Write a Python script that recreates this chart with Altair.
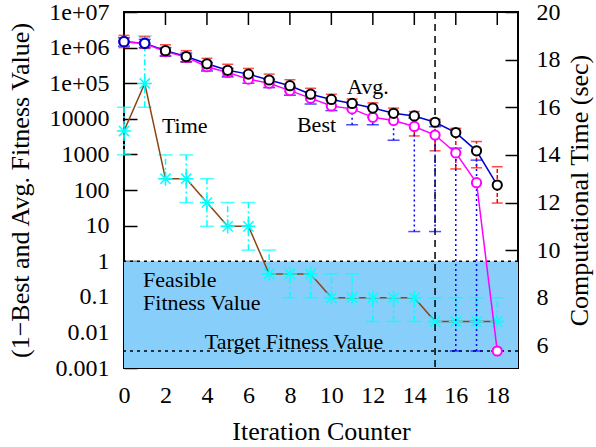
import altair as alt
import pandas as pd

# ---------------- data ----------------
iterations = list(range(19))

avg_fitness = [1.47e6, 1.32e6, 8.2e5, 5.6e5, 3.5e5, 2.3e5, 1.8e5, 1.23e5, 8.5e4, 4.9e4,
               3.5e4, 2.7e4, 2.0e4, 1.43e4, 1.2e4, 8.0e3, 4.1e3, 1.26e3, 138]
avg_low = [1.0e6, 9.5e5, 5.8e5, 3.9e5, 2.4e5, 1.6e5, 1.2e5, 8.5e4, 5.8e4, 3.4e4,
           2.4e4, 1.8e4, 1.1e4, 9.3e3, 3.3e3, 1.26e3, 390, 420, 43]
avg_high = [2.2e6, 2.0e6, 1.2e6, 8.2e5, 5.0e5, 3.4e5, 2.6e5, 1.8e5, 1.25e5, 7.2e4,
            4.9e4, 3.6e4, 2.8e4, 2.0e4, 1.6e4, 9.7e3, 5.4e3, 2.3e3, 450]

best_fitness = [1.47e6, 1.3e6, 7.7e5, 5.4e5, 2.9e5, 2.0e5, 1.3e5, 1.0e5, 6.2e4, 3.8e4,
                2.3e4, 1.9e4, 1.1e4, 8.9e3, 6.1e3, 3.5e3, 1.1e3, 160, 0.003]
best_low = [1.1e6, 1.0e6, 5.8e5, 4.0e5, 2.2e5, 1.5e5, 1.0e5, 7.5e4, 4.6e4, 2.6e4,
            1.7e4, 6.8e3, 6.8e3, 2.5e3, 6.8, 6.8, 0.003, 0.003, 0.003]
best_high = [1.9e6, 1.7e6, 1.0e6, 7.0e5, 3.8e5, 2.6e5, 1.7e5, 1.3e5, 8.0e4, 5.7e4,
             3.4e4, 2.8e4, 2.0e4, 1.4e4, 1.05e4, 6.0e3, 1.5e3, 690, 0.003]

time_sec = [15, 17, 13, 13, 12, 11, 11, 9, 9, 9, 8, 8, 8, 8, 8, 7, 7, 7, 7]
time_low = [14, 16, 13, 12, 11, 11, 10, 9, 8, 8, 8, 8, 7, 7, 7, 7, 7, 7, 7]
time_high = [16, 19, 14, 14, 13, 12, 12, 10, 9, 9, 9, 9, 8, 8, 8, 8, 8, 8, 8]

x_tick_values = [0, 2, 4, 6, 8, 10, 12, 14, 16, 18]
left_tick_values = [0.001, 0.01, 0.1, 1, 10, 100, 1000, 10000, 1e5, 1e6, 1e7]
left_tick_labels = ["0.001", "0.01", "0.1", "1", "10", "100", "1000", "10000",
                    "1e+05", "1e+06", "1e+07"]
right_tick_values = [6, 8, 10, 12, 14, 16, 18, 20]

feasible_level = 1
target_level = 0.003
floor_level = 0.001
marker_iteration = 15

ann_text = ["Time", "Avg.", "Best", "Feasible", "Fitness Value", "Target Fitness Value"]
ann_x = [1.83, 10.75, 8.34, 0.92, 0.92, 3.9]
ann_y = [6300, 7.8e4, 6.8e3, 0.30, 0.068, 0.0054]

# ---------------- tables ----------------
df = pd.DataFrame({
    "it": iterations,
    "avg": avg_fitness, "avg_lo": avg_low, "avg_hi": avg_high,
    "best": best_fitness, "best_lo": best_low, "best_hi": best_high,
    "t": time_sec, "t_lo": time_low, "t_hi": time_high,
})
first_two = df[df["it"] < 2]
ann = pd.DataFrame({"text": ann_text, "x": ann_x, "y": ann_y})
levels = pd.DataFrame({"level": [feasible_level, target_level]})
region = pd.DataFrame({"x0": [0], "x1": [19], "y0": [floor_level], "y1": [feasible_level]})
marker = pd.DataFrame({"it": [marker_iteration]})
xticks = pd.DataFrame({"v": x_tick_values})

W, H = 394, 356
FONT = "Liberation Serif"
TICK = 13
LBL = 24
TTL = 26

xscale = alt.Scale(domain=[0, 19], nice=False, zero=False)
yscale = alt.Scale(type="log", domain=[0.001, 1e7], nice=False)
tscale = alt.Scale(domain=[5.05, 20], nice=False, zero=False)

label_expr = " : ".join(
    f"datum.value < {v * 1.5} ? '{l}'" for v, l in zip(left_tick_values, left_tick_labels)
) + " : ''"

common = dict(tickSize=TICK, tickWidth=1.5, tickColor="black", domain=False, grid=False,
              labelFont=FONT, labelFontSize=LBL, labelColor="black",
              titleFont=FONT, titleFontSize=TTL, titleColor="black",
              titleFontWeight="normal", labelOverlap=False, labelFlush=False,
              offset=-TICK)

xaxis = alt.Axis(orient="bottom", values=x_tick_values, format="d",
                 labelPadding=15, title="Iteration Counter", titlePadding=11, **common)
yaxis = alt.Axis(orient="left", values=left_tick_values, labelExpr=label_expr,
                 labelPadding=15, title="(1\u2212Best and Avg. Fitness Value)",
                 titlePadding=15, **common)
taxis = alt.Axis(orient="right", values=right_tick_values, labelPadding=18,
                 title="Computational Time (sec)", titleAngle=270, titleBaseline="top",
                 titlePadding=6, **common)


def X(field):
    return alt.X(field, type="quantitative", scale=xscale, axis=xaxis)


def YL(field, axis=yaxis):
    return alt.Y(field, type="quantitative", scale=yscale, axis=axis)


def YT(field):
    return alt.Y(field, type="quantitative", scale=tscale, axis=taxis)


# ---------------- background (left scale, no axis) ----------------
bg = alt.layer(
    alt.Chart(region).mark_rect(color="#87CEFA").encode(
        x=X("x0"), x2="x1", y=YL("y0", axis=None), y2="y1"),
    alt.Chart(levels).mark_rule(color="black", strokeWidth=1.5, strokeDash=[3, 4]).encode(
        y=YL("level", axis=None)),
)

# ---------------- time (right scale) ----------------
asterisk = "M-1,0L1,0M0,-1L0,1M-0.72,-0.72L0.72,0.72M-0.72,0.72L0.72,-0.72"
tbase = alt.Chart(df)
time_layer = alt.layer(
    tbase.mark_rule(color="#00FFFF", strokeWidth=1.5, strokeDash=[6, 3, 2, 3]).encode(
        x=X("it"), y=YT("t_lo"), y2="t_hi"),
    tbase.mark_tick(color="#00FFFF", orient="horizontal", size=14, thickness=1.5).encode(
        x=X("it"), y=YT("t_lo")),
    tbase.mark_tick(color="#00FFFF", orient="horizontal", size=14, thickness=1.5).encode(
        x=X("it"), y=YT("t_hi")),
    tbase.mark_line(color="#8B4513", strokeWidth=1.5).encode(x=X("it"), y=YT("t")),
    tbase.mark_point(shape=asterisk, size=200, stroke="#00FFFF", strokeWidth=1.5,
                     filled=False, opacity=1).encode(x=X("it"), y=YT("t")),
)

# ---------------- fitness (left scale, with axis) ----------------
fbase = alt.Chart(df)
CS = 85
fg = alt.layer(
    alt.Chart(marker).mark_rule(color="black", strokeWidth=1.5, strokeDash=[7, 5]).encode(
        x=X("it")),
    alt.Chart(xticks).mark_rule(color="black", strokeWidth=1.5).encode(
        x=X("v"), y=alt.value(0), y2=alt.value(TICK)),
    # avg error bars (red)
    fbase.mark_rule(color="#FF0000", strokeWidth=1.5, strokeDash=[4, 2]).encode(
        x=X("it"), y=YL("avg_lo"), y2="avg_hi"),
    fbase.mark_tick(color="#FF0000", orient="horizontal", size=11, thickness=1.5).encode(
        x=X("it"), y=YL("avg_lo")),
    fbase.mark_tick(color="#FF0000", orient="horizontal", size=11, thickness=1.5).encode(
        x=X("it"), y=YL("avg_hi")),
    # best error bars (blue)
    fbase.mark_rule(color="#0000FF", strokeWidth=1.5, strokeDash=[2, 3]).encode(
        x=X("it"), y=YL("best_lo"), y2="best_hi"),
    fbase.mark_tick(color="#0000FF", orient="horizontal", size=12, thickness=1.5).encode(
        x=X("it"), y=YL("best_lo")),
    fbase.mark_tick(color="#0000FF", orient="horizontal", size=12, thickness=1.5).encode(
        x=X("it"), y=YL("best_hi")),
    # lines
    fbase.mark_line(color="#0000CD", strokeWidth=1.5).encode(x=X("it"), y=YL("avg")),
    fbase.mark_line(color="#FF00FF", strokeWidth=1.5).encode(x=X("it"), y=YL("best")),
    # circles
    fbase.mark_point(shape="circle", size=CS, filled=True, fill="white", stroke="#FF00FF",
                     strokeWidth=2, opacity=1).encode(x=X("it"), y=YL("best")),
    fbase.mark_point(shape="circle", size=CS, filled=True, fill="white", stroke="black",
                     strokeWidth=2, opacity=1).encode(x=X("it"), y=YL("avg")),
    alt.Chart(first_two).mark_point(shape="circle", size=CS, filled=True, fill="white",
                                    stroke="#0000CD", strokeWidth=2, opacity=1).encode(
        x=X("it"), y=YL("avg")),
    # annotations
    alt.Chart(ann).mark_text(font=FONT, fontSize=22, align="left", baseline="middle",
                             color="black").encode(x=X("x"), y=YL("y"), text="text"),
)

chart = alt.layer(bg, time_layer, fg).resolve_scale(y="independent").properties(
    width=W, height=H,
    padding={"left": 124, "top": 12, "right": 78, "bottom": 79},
    autosize=alt.AutoSizeParams(type="none"),
    background="white",
).configure_view(stroke="black", strokeWidth=2)

chart.save("out.html", embed_options={"renderer": "svg", "actions": False})
